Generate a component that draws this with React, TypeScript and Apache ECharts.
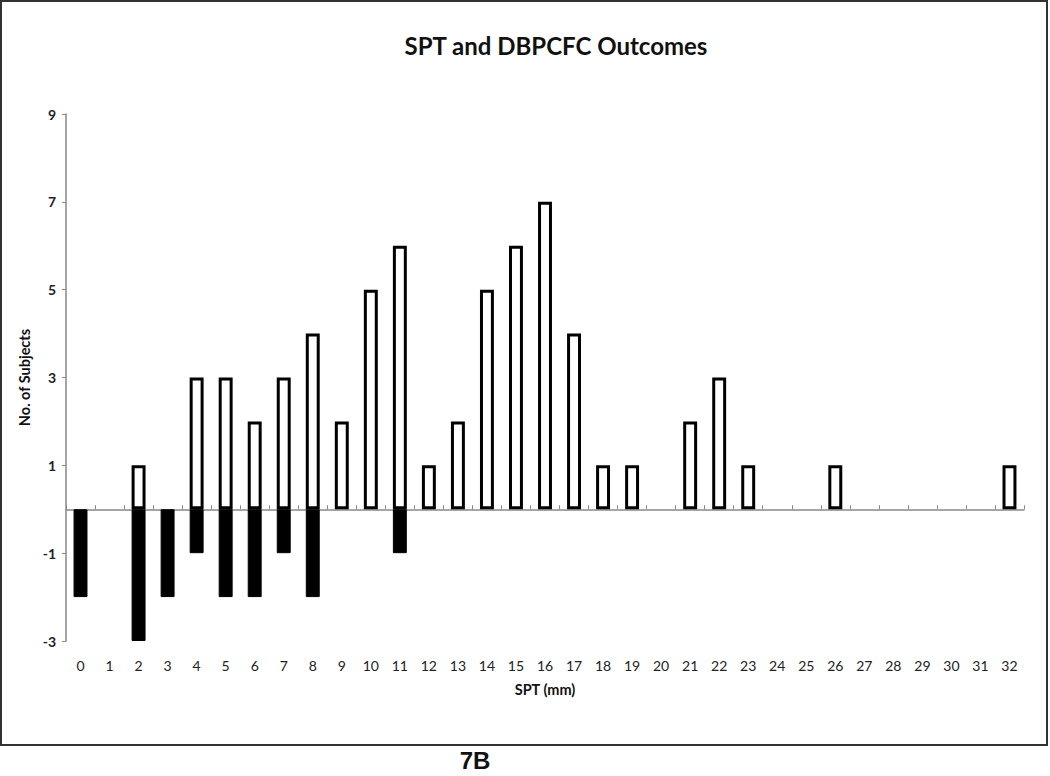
import React, { useEffect, useRef } from "react";
import * as echarts from "echarts";

const categories = Array.from({ length: 33 }, (_, i) => String(i));
// positive outcomes (white bars) by SPT (mm)
const positiveValues: (number | null)[] = [
  null, null, 1, null, 3, 3, 2, 3, 4, 2, 5, 6, 1, 2, 5, 6, 7, 4, 1, 1, null, 2, 3, 1, null, null, 1, null, null, null, null, null, 1,
];
// negative outcomes (black bars)
const negativeValues: (number | null)[] = [
  -2, null, -3, -2, -1, -2, -2, -1, -2, null, null, -1, null, null, null, null, null, null, null, null, null, null, null, null, null, null, null, null, null, null, null, null, null,
];
const yTicks = { min: -3, max: 9, interval: 2 };

const titleText = "SPT and DBPCFC Outcomes";
const xName = "SPT (mm)";
const yName = "No. of Subjects";
const figLabel = "7B";

export default function App() {
  const ref = useRef<HTMLDivElement>(null);
  useEffect(() => {
    document.body.style.margin = "0";
    if (!ref.current) return;
    const chart = echarts.init(ref.current, null, { renderer: "svg" });
    const font = "Lato, 'Open Sans', sans-serif";
    chart.setOption({
      animation: false,
      backgroundColor: "#fff",
      title: {
        text: titleText,
        left: 551,
        textAlign: "center",
        top: 28,
        textStyle: { fontFamily: font, fontWeight: "bold", fontSize: 24, color: "#111" },
      },
      graphic: [
        {
          type: "rect",
          shape: { x: 1, y: 1, width: 1046, height: 744 },
          style: { fill: "none", stroke: "#333", lineWidth: 2 },
          silent: true,
        },
        {
          type: "text",
          x: 475,
          y: 760,
          style: {
            text: figLabel,
            fontFamily: "'Liberation Sans', Arial, sans-serif",
            fontWeight: "bold",
            fontSize: 24,
            lineHeight: 24,
            fill: "#111",
            align: "center",
            verticalAlign: "middle",
          },
        },
      ],
      grid: { left: 66, right: 26, top: 114, bottom: 135, containLabel: false },
      xAxis: [
        {
          type: "category",
          data: categories,
          position: "bottom",
          axisLine: { onZero: true, lineStyle: { color: "#888", width: 1.5 } },
          axisTick: { show: true, inside: true, length: 4, lineStyle: { color: "#888" } },
          axisLabel: { show: false },
          splitLine: { show: false },
        },
        {
          type: "category",
          data: categories,
          position: "bottom",
          axisLine: { show: false, onZero: false },
          axisTick: { show: false },
          axisLabel: { show: true, margin: 17, fontFamily: font, fontSize: 14, color: "#222" },
          name: xName,
          nameLocation: "middle",
          nameGap: 41,
          nameTextStyle: { fontFamily: font, fontWeight: "bold", fontSize: 14.5, color: "#111" },
          splitLine: { show: false },
        },
      ],
      yAxis: {
        type: "value",
        min: yTicks.min,
        max: yTicks.max,
        interval: yTicks.interval,
        axisLine: { show: true, lineStyle: { color: "#888", width: 1.5 } },
        axisTick: { show: true, length: 4, lineStyle: { color: "#888" } },
        axisLabel: { fontFamily: font, fontWeight: "bold", fontSize: 14, color: "#222", margin: 10 },
        splitLine: { show: false },
        name: yName,
        nameLocation: "middle",
        nameGap: 32,
        nameTextStyle: { fontFamily: font, fontWeight: "bold", fontSize: 14.5, color: "#111" },
      },
      series: [
        {
          type: "bar",
          xAxisIndex: 0,
          data: positiveValues,
          barWidth: "48%",
          barGap: "-100%",
          itemStyle: { color: "#fff", borderColor: "#000", borderWidth: 3 },
        },
        {
          type: "bar",
          xAxisIndex: 0,
          data: negativeValues,
          barWidth: "48%",
          barGap: "-100%",
          itemStyle: { color: "#000", borderColor: "#000", borderWidth: 1 },
        },
      ],
    });
    return () => chart.dispose();
  }, []);
  return <div ref={ref} style={{ width: 1050, height: 776 }} />;
}
